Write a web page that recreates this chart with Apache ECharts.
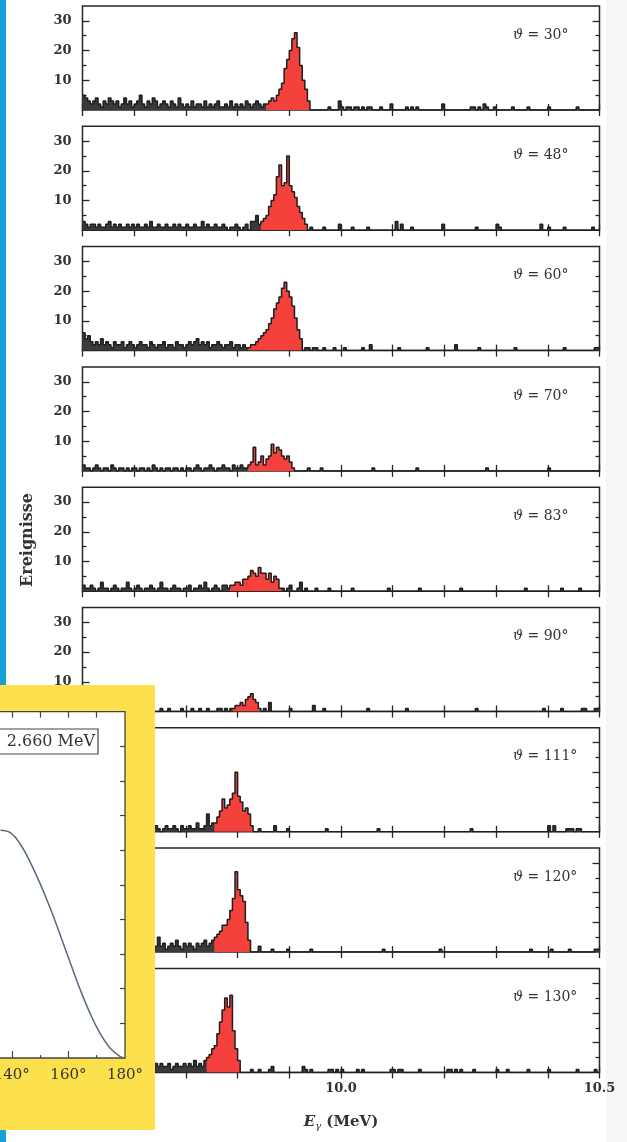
<!DOCTYPE html>
<html>
<head>
<meta charset="utf-8">
<script src="https://cdn.jsdelivr.net/npm/echarts@6/dist/echarts.min.js"></script>
<style>
	html,body{margin:0;padding:0;background:#fff;}
	#main{position:absolute;left:0;top:0;width:627px;height:1142px;}
	#inset{position:absolute;left:0;top:685px;width:155px;height:445px;}
</style>
</head>
<body>
<div id="main"></div>
<div id="inset"></div>
<script>
	// histogram bins, 9.5 .. 10.5 MeV
	const binStart = 9.5;
	const binWidth = 0.005;
	const thetaLabels = ['30°','48°','60°','70°','83°','90°','111°','120°','130°'];

	const counts30 = [
		5,4,3,2,3,4,2,1,3,2,4,3,2,3,1,2,4,2,3,1,
		2,3,5,2,1,3,2,4,3,1,2,3,2,1,3,2,1,4,2,1,
		2,1,3,1,2,2,1,3,1,2,1,2,3,1,1,2,1,3,1,2,
		1,2,1,3,2,1,2,3,2,1,2,
		2,3,4,3,5,7,9,14,17,20,24,26,21,15,10,7,3,
		0,0,0,0,0,0,0,1,0,0,0,3,
		1,0,1,1,0,1,1,0,1,0,1,1,0,0,0,1,0,0,0,2,
		0,0,0,0,0,1,0,1,0,1,0,0,0,0,0,0,0,0,0,2,
		0,0,0,0,0,0,0,0,0,0,1,1,0,1,0,2,1,0,0,1,
		0,0,0,0,0,0,1,0,0,0,0,0,1,0,0,0,0,0,0,0,
		1,0,0,0,0,0,0,0,0,0,0,1,0,0,0,0,0,0,0,0
	];
	const counts48 = [
		3,2,1,2,2,1,2,1,1,2,3,1,2,1,2,1,1,2,1,2,
		1,2,1,1,2,1,3,1,1,2,1,1,2,1,1,2,1,2,1,1,
		2,1,1,2,1,1,3,1,2,1,1,2,1,1,2,1,0,1,1,2,
		1,0,1,2,0,3,3,5,2,
		3,4,5,8,10,12,18,22,15,16,25,15,13,11,8,6,4,2,
		0,1,0,0,0,0,1,0,0,0,0,0,2,
		0,0,0,0,1,0,0,0,0,0,1,0,0,0,0,0,0,0,0,0,
		0,3,0,2,0,0,0,1,0,0,0,0,0,0,0,0,0,0,0,2,
		0,0,0,0,0,0,0,0,0,0,0,0,1,0,0,0,0,0,0,0,
		2,1,0,0,0,0,0,0,0,0,0,0,0,0,0,0,0,2,0,0,
		1,0,0,0,0,0,1,0,0,0,0,0,0,0,0,0,0,1,0,0
	];
	const counts60 = [
		6,4,5,3,2,3,2,4,2,3,2,1,3,2,2,3,1,2,3,2,
		1,2,3,2,2,1,3,2,1,2,2,3,1,2,2,1,3,2,2,1,
		2,3,2,3,4,2,3,2,3,1,2,2,3,2,1,2,2,3,1,2,
		2,1,2,1,
		1,2,2,3,4,5,6,7,9,11,14,16,18,21,23,20,18,15,11,7,4,
		0,1,1,0,1,1,0,0,1,0,0,0,1,0,0,
		0,1,0,0,0,0,0,0,1,0,0,2,0,0,0,0,0,0,0,0,
		0,0,1,0,0,0,0,0,0,0,0,0,0,1,0,0,0,0,0,0,
		0,0,0,0,2,0,0,0,0,0,0,0,0,1,0,0,0,0,0,0,
		0,0,0,0,0,0,0,1,0,0,0,0,0,0,0,0,0,0,0,0,
		0,0,0,0,0,0,1,0,0,0,0,0,0,0,0,0,0,0,1,1
	];
	const counts70 = [
		2,1,1,0,1,2,1,0,1,1,0,2,1,0,1,1,0,1,0,1,
		1,0,1,1,0,1,0,2,1,0,1,0,1,1,0,1,1,0,1,0,
		1,1,0,1,2,1,0,1,1,2,1,0,1,1,2,1,1,0,2,1,
		1,2,1,1,
		2,3,8,2,3,5,2,4,5,9,6,8,7,5,4,5,3,1,
		0,0,0,0,0,1,0,0,0,0,1,0,0,0,0,0,0,0,
		0,0,0,0,0,0,0,0,0,0,0,0,1,0,0,0,0,0,0,0,
		0,0,0,0,0,0,0,0,0,1,0,0,0,0,0,0,0,0,0,0,
		0,0,0,0,0,0,0,0,0,0,0,0,0,0,0,0,1,0,0,0,
		0,0,0,0,0,0,0,0,0,0,0,0,0,0,0,0,0,0,0,0,
		1,0,0,0,0,0,0,0,0,0,0,0,0,0,0,0,0,0,0,0
	];
	const counts83 = [
		2,1,1,2,1,0,1,3,1,1,0,1,2,1,0,1,1,3,1,0,
		1,2,1,0,1,1,2,1,0,1,3,1,1,0,1,2,1,1,0,1,
		1,2,0,1,1,2,1,3,1,0,1,2,1,0,2,2,1,
		2,2,3,3,2,4,4,5,7,6,5,8,6,6,4,6,3,5,4,1,
		1,0,1,2,0,0,1,3,0,1,0,0,0,1,0,0,0,0,1,0,0,0,0,
		0,0,0,0,1,0,0,0,0,0,0,0,0,0,0,0,0,0,1,0,
		0,0,0,0,0,0,0,0,0,0,1,0,0,0,0,0,0,0,0,0,
		0,0,0,0,0,0,1,0,0,0,0,0,0,0,0,0,0,0,0,0,
		0,0,0,0,0,0,0,0,0,0,0,1,0,0,0,0,0,0,0,0,
		0,0,0,0,0,1,0,0,0,0,0,0,1,0,0,0,0,0,0,0
	];
	const counts90 = [
		1,0,0,1,0,0,0,1,0,0,1,0,0,0,1,0,0,1,0,0,
		0,1,0,0,0,1,0,0,0,0,1,0,0,1,0,0,0,0,1,0,
		0,0,1,0,0,1,0,0,1,0,0,0,1,1,0,1,0,1,
		1,2,2,3,2,4,5,6,4,3,1,
		0,1,0,3,0,0,0,0,0,0,0,1,0,0,0,0,0,0,0,0,2,0,0,0,1,0,0,0,0,0,0,
		0,0,0,0,0,0,0,0,0,0,1,0,0,0,0,0,0,0,0,0,
		0,0,0,0,0,1,0,0,0,0,0,0,0,0,0,0,0,0,0,0,
		0,0,0,0,0,0,0,0,0,0,0,0,1,0,0,0,0,0,0,0,
		0,0,0,0,0,0,0,0,0,0,0,0,0,0,0,0,0,0,1,0,
		0,0,0,0,0,1,0,0,0,0,0,0,0,1,1,0,0,0,1,1
	];
	const counts111 = [
		1,2,1,1,2,1,0,1,2,1,1,1,2,1,0,1,1,2,1,1,
		2,1,1,0,1,2,1,1,2,1,0,1,2,1,1,2,1,0,2,1,
		1,2,1,1,3,1,1,2,6,2,3,
		3,5,7,11,8,9,11,13,20,12,10,7,8,6,2,
		0,0,1,0,0,0,0,0,2,0,0,0,0,1,0,0,0,0,0,0,0,0,0,0,0,0,0,0,1,0,0,0,0,0,
		0,0,0,0,0,0,0,0,0,0,0,0,0,0,1,0,0,0,0,0,
		0,0,0,0,0,0,0,0,0,0,0,0,0,0,0,0,0,0,0,0,
		0,0,0,0,0,0,0,0,0,0,1,0,0,0,0,0,0,0,0,0,
		0,0,0,0,0,0,0,0,0,0,0,0,0,0,0,0,0,0,0,0,
		2,0,2,0,0,0,0,1,1,1,0,1,1,0,0,0,0,0,0,0
	];
	const counts120 = [
		3,2,4,2,3,5,2,3,1,4,2,3,2,1,3,4,2,3,2,1,
		3,2,4,1,3,2,3,1,2,5,2,3,1,2,3,2,4,2,1,3,
		2,3,2,1,3,2,3,4,2,3,4,
		5,6,7,9,9,11,14,18,27,21,19,17,10,4,
		0,0,0,2,0,0,0,0,1,0,0,0,0,0,1,0,0,0,0,0,0,0,0,1,0,0,0,0,0,0,0,0,0,0,0,
		0,0,0,0,0,0,0,0,0,0,0,0,0,0,0,0,1,0,0,0,
		0,0,0,0,0,0,0,0,0,0,0,0,0,0,0,0,0,0,1,0,
		0,0,0,0,0,0,0,0,0,0,0,0,0,0,0,0,0,0,0,0,
		0,0,0,0,0,0,0,0,0,0,0,0,0,1,0,0,0,0,0,0,
		0,1,0,0,0,0,0,0,1,0,0,0,0,0,0,0,0,0,1,1
	];
	const counts130 = [
		2,3,2,1,3,2,2,3,1,2,3,2,1,2,3,2,2,1,3,2,
		2,3,1,2,2,3,2,1,3,2,3,2,2,3,1,2,3,2,2,3,
		2,3,2,4,2,3,2,4,
		5,6,8,9,13,17,21,25,22,26,14,8,4,
		0,0,0,0,1,0,0,1,0,0,0,1,2,0,0,0,0,0,0,0,0,0,0,0,2,1,0,1,0,0,0,0,0,0,1,1,0,1,0,
		1,0,0,0,0,0,1,0,1,0,0,0,0,0,0,0,0,0,0,1,
		1,0,1,1,0,0,0,0,0,0,1,0,0,0,0,0,0,0,0,0,
		0,1,1,0,1,0,1,0,0,0,0,1,0,0,0,0,0,0,0,0,
		1,0,0,0,1,0,0,0,0,0,0,0,1,0,0,0,0,0,0,0,
		1,0,0,0,0,0,0,0,0,0,0,1,0,0,0,0,0,0,1,0
	];
	// first / last bin of the red peak window per panel
	const peakBins = [[71,87],[69,86],[64,84],[64,81],[57,76],[58,68],[51,65],[51,64],[48,60]];

	// inset: angular distribution
	const insetTheta = [136, 139.6, 143.2, 146.7, 150.2, 153.7, 157.2, 160.7, 164.2, 167.7, 171.2, 174.7, 178.2, 180];
	const insetW = [0.658, 0.650, 0.615, 0.562, 0.500, 0.430, 0.353, 0.274, 0.197, 0.128, 0.071, 0.029, 0.005, 0];

	const panels = [counts30, counts48, counts60, counts70, counts83, counts90, counts111, counts120, counts130];

	const ink = '#262626';
	const serif = '"DejaVu Serif", "Liberation Serif", serif';

	function stepData(arr, from, to){
		let d = [];
		for(let i = from; i <= to; i++){
			d.push([binStart + i*binWidth, arr[i]]);
		}
		d.push([binStart + (to+1)*binWidth, arr[to]]);
		return d;
	}

	let grids = [], xAxes = [], yAxes = [], series = [], graphics = [];
	panels.forEach((arr, k) => {
		let top = 6 + k*120.3;
		grids.push({left: 82.5, top: top, width: 517, height: 104, show: true, outerBoundsMode: 'none',
			borderColor: ink, borderWidth: 1.5, backgroundColor: 'transparent'});
		['bottom','top'].forEach(pos => {
			xAxes.push({
				gridIndex: k, type: 'value', position: pos, min: 9.5, max: 10.5, interval: 0.1,
				axisLine: {show: false}, splitLine: {show: false},
				axisTick: {inside: true, length: 6, lineStyle: {color: ink, width: 1.3}},
				axisLabel: (k === 8 && pos === 'bottom') ? {
					customValues: [9.5, 10, 10.5], formatter: v => v.toFixed(1), margin: 10,
					fontFamily: serif, fontSize: 13, fontWeight: 'bold', color: '#333'
				} : {show: false}
			});
		});
		['left','right'].forEach(pos => {
			yAxes.push({
				gridIndex: k, type: 'value', position: pos, min: 0, max: 35,
				axisLine: {show: false}, splitLine: {show: false},
				axisTick: {inside: true, length: 7, customValues: [10,20,30], lineStyle: {color: ink, width: 1.3}},
				axisLabel: pos === 'left' ? {customValues: [10,20,30], margin: 11,
					fontFamily: serif, fontSize: 13, fontWeight: 'bold', color: '#333'} : {show: false}
			});
			yAxes.push({
				gridIndex: k, type: 'value', position: pos, min: 0, max: 35,
				axisLine: {show: false}, splitLine: {show: false},
				axisTick: {inside: true, length: 4, customValues: [5,15,25], lineStyle: {color: ink, width: 1.3}},
				axisLabel: {show: false}
			});
		});
		let pb = peakBins[k];
		// dark body of the whole histogram
		series.push({
			type: 'line', xAxisIndex: 2*k, yAxisIndex: 4*k, step: 'end', symbol: 'none', z: 1,
			data: stepData(arr, 0, arr.length - 1),
			lineStyle: {width: 0}, areaStyle: {color: '#3a3a3a', opacity: 1}
		});
		// red peak window
		series.push({
			type: 'line', xAxisIndex: 2*k, yAxisIndex: 4*k, step: 'end', symbol: 'none', z: 2,
			data: stepData(arr, pb[0], pb[1]),
			lineStyle: {width: 0}, areaStyle: {color: '#f4413b', opacity: 1}
		});
		// outline
		series.push({
			type: 'line', xAxisIndex: 2*k, yAxisIndex: 4*k, step: 'end', symbol: 'none', z: 3,
			data: stepData(arr, 0, arr.length - 1),
			lineStyle: {color: '#1e1e1e', width: 1.5}
		});
		graphics.push({
			type: 'text', x: 513, y: top + 29, z: 50,
			style: {
				text: '{t|ϑ} = ' + thetaLabels[k],
				fontFamily: serif, fontSize: 14, fill: '#333', verticalAlign: 'middle',
				rich: {t: {fontFamily: serif, fontSize: 14, fontStyle: 'italic', fill: '#333'}}
			}
		});
	});

	graphics.push({type: 'rect', z: 60, shape: {x: 0, y: 0, width: 6, height: 1142}, style: {fill: '#19a0da'}});
	graphics.push({type: 'rect', z: -10, shape: {x: 606, y: 0, width: 21, height: 1142}, style: {fill: '#f5f6f8'}});
	graphics.push({
		type: 'text', x: 28, y: 540, rotation: Math.PI/2, z: 50,
		style: {text: 'Ereignisse', font: 'bold 16px ' + serif, fill: '#333', align: 'center', verticalAlign: 'middle'}
	});
	graphics.push({
		type: 'text', x: 341, y: 1122, z: 50,
		style: {
			text: '{e|E}{g|γ}{u| (MeV)}', align: 'center', verticalAlign: 'middle',
			rich: {
				e: {fontFamily: serif, fontSize: 15, fontWeight: 'bold', fontStyle: 'italic', fill: '#333'},
				g: {fontFamily: serif, fontSize: 10, fontStyle: 'italic', fill: '#333', padding: [8,0,0,0]},
				u: {fontFamily: serif, fontSize: 15, fontWeight: 'bold', fill: '#333'}
			}
		}
	});

	let mainChart = echarts.init(document.getElementById('main'));
	mainChart.setOption({
		backgroundColor: '#fff',
		animation: false,
		grid: grids,
		xAxis: xAxes,
		yAxis: yAxes,
		series: series,
		graphic: graphics
	});

	// inset with the angular distribution, partly cut off on the left
	let insetChart = echarts.init(document.getElementById('inset'));
	let tickStyle = {color: '#444', width: 1.2};
	insetChart.setOption({
		backgroundColor: '#fce04c',
		animation: false,
		grid: {left: -16.5, top: 26.7, width: 141.5, height: 346.3, show: true, outerBoundsMode: 'none',
			containLabel: false, backgroundColor: '#fff', borderColor: '#444', borderWidth: 1.3},
		xAxis: [
			{type: 'value', min: 130, max: 180, position: 'bottom',
				axisLine: {show: false}, splitLine: {show: false},
				axisTick: {inside: true, length: 7, customValues: [140,160], lineStyle: tickStyle},
				axisLabel: {customValues: [140,160,180], formatter: v => v + '°', margin: 10,
					fontFamily: serif, fontSize: 15, color: '#333'}},
			{type: 'value', min: 130, max: 180, position: 'bottom',
				axisLine: {show: false}, splitLine: {show: false},
				axisTick: {inside: true, length: 3, customValues: [150,170], lineStyle: tickStyle},
				axisLabel: {show: false}},
			{type: 'value', min: 130, max: 180, position: 'top',
				axisLine: {show: false}, splitLine: {show: false},
				axisTick: {inside: true, length: 6, customValues: [140,150,160,170], lineStyle: tickStyle},
				axisLabel: {show: false}}
		],
		yAxis: {type: 'value', min: 0, max: 1, position: 'right',
			axisLine: {show: false}, splitLine: {show: false},
			axisTick: {inside: true, length: 5, customValues: [0.1,0.2,0.3,0.4,0.5,0.6,0.7,0.8,0.9], lineStyle: tickStyle},
			axisLabel: {show: false}},
		series: [{
			type: 'line', smooth: 0.4, symbol: 'none',
			data: insetTheta.map((t, i) => [t, insetW[i]]),
			lineStyle: {color: '#56697f', width: 1.5}
		}],
		graphic: [
			{type: 'rect', z: 100, shape: {x: -60, y: 44, width: 158, height: 25},
				style: {fill: '#fff', stroke: '#444', lineWidth: 1.2}},
			{type: 'text', z: 101, x: 95, y: 57,
				style: {text: 'E = 2.660 MeV', font: '16px ' + serif, fill: '#333', align: 'right', verticalAlign: 'middle'}}
		]
	});
</script>
</body>
</html>
